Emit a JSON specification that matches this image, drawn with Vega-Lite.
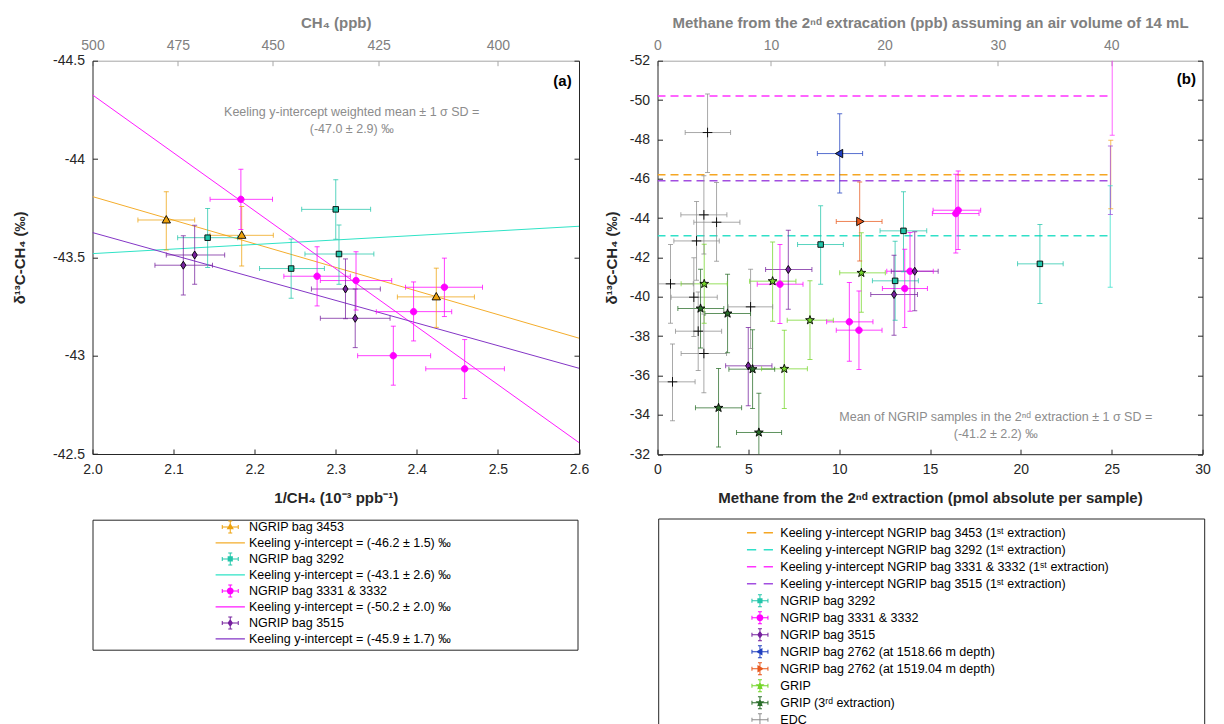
{
"$schema": "https://vega.github.io/schema/vega-lite/v6.json",
"autosize": {"type": "none"},
"padding": {"left": 92.5, "top": 60.7, "right": 1131.5, "bottom": 663.3},
"config": {
  "font": "Liberation Sans",
  "view": {"stroke": null},
  "axis": {"grid": false, "labelFontSize": 14, "labelFont": "Liberation Sans", "titleFont": "Liberation Sans", "titleFontSize": 15, "titleFontWeight": "bold", "tickSize": -5, "labelPadding": 13, "labelFlush": false, "labelOverlap": false, "domainColor": "#262626", "tickColor": "#262626", "labelColor": "#262626", "titleColor": "#262626", "domainWidth": 1, "tickWidth": 1, "titleLimit": 2000}
},
"datasets": {
"a_pts": [
{"s":"NGRIP bag 3453","x":2.091,"y":-43.690,"xlo":2.056,"xhi":2.126,"ylo":-43.834,"yhi":-43.538},
{"s":"NGRIP bag 3453","x":2.184,"y":-43.612,"xlo":2.145,"xhi":2.223,"ylo":-43.758,"yhi":-43.456},
{"s":"NGRIP bag 3453","x":2.424,"y":-43.299,"xlo":2.376,"xhi":2.471,"ylo":-43.445,"yhi":-43.144},
{"s":"NGRIP bag 3292","x":2.142,"y":-43.600,"xlo":2.105,"xhi":2.179,"ylo":-43.749,"yhi":-43.449},
{"s":"NGRIP bag 3292","x":2.300,"y":-43.744,"xlo":2.258,"xhi":2.343,"ylo":-43.895,"yhi":-43.592},
{"s":"NGRIP bag 3292","x":2.304,"y":-43.517,"xlo":2.262,"xhi":2.347,"ylo":-43.664,"yhi":-43.363},
{"s":"NGRIP bag 3292","x":2.245,"y":-43.443,"xlo":2.206,"xhi":2.286,"ylo":-43.593,"yhi":-43.292},
{"s":"NGRIP bag 3331 & 3332","x":2.183,"y":-43.795,"xlo":2.145,"xhi":2.222,"ylo":-43.948,"yhi":-43.641},
{"s":"NGRIP bag 3331 & 3332","x":2.277,"y":-43.404,"xlo":2.236,"xhi":2.318,"ylo":-43.554,"yhi":-43.253},
{"s":"NGRIP bag 3331 & 3332","x":2.325,"y":-43.382,"xlo":2.281,"xhi":2.369,"ylo":-43.529,"yhi":-43.232},
{"s":"NGRIP bag 3331 & 3332","x":2.434,"y":-43.348,"xlo":2.386,"xhi":2.481,"ylo":-43.496,"yhi":-43.199},
{"s":"NGRIP bag 3331 & 3332","x":2.396,"y":-43.224,"xlo":2.350,"xhi":2.443,"ylo":-43.375,"yhi":-43.075},
{"s":"NGRIP bag 3331 & 3332","x":2.371,"y":-43.000,"xlo":2.327,"xhi":2.417,"ylo":-43.150,"yhi":-42.850},
{"s":"NGRIP bag 3331 & 3332","x":2.459,"y":-42.933,"xlo":2.411,"xhi":2.508,"ylo":-43.082,"yhi":-42.782},
{"s":"NGRIP bag 3515","x":2.112,"y":-43.460,"xlo":2.077,"xhi":2.148,"ylo":-43.610,"yhi":-43.309},
{"s":"NGRIP bag 3515","x":2.126,"y":-43.512,"xlo":2.091,"xhi":2.163,"ylo":-43.663,"yhi":-43.363},
{"s":"NGRIP bag 3515","x":2.312,"y":-43.339,"xlo":2.270,"xhi":2.355,"ylo":-43.492,"yhi":-43.188},
{"s":"NGRIP bag 3515","x":2.324,"y":-43.190,"xlo":2.281,"xhi":2.367,"ylo":-43.339,"yhi":-43.041}
],
"a_lines": [
{"s":"Keeling y-intercept = (-46.2 ± 1.5) ‰","x":2.0,"y":-43.809},
{"s":"Keeling y-intercept = (-46.2 ± 1.5) ‰","x":2.6,"y":-43.089},
{"s":"Keeling y-intercept = (-43.1 ± 2.6) ‰","x":2.0,"y":-43.519},
{"s":"Keeling y-intercept = (-43.1 ± 2.6) ‰","x":2.6,"y":-43.658},
{"s":"Keeling y-intercept = (-50.2 ± 2.0) ‰","x":2.0,"y":-44.326},
{"s":"Keeling y-intercept = (-50.2 ± 2.0) ‰","x":2.6,"y":-42.558},
{"s":"Keeling y-intercept = (-45.9 ± 1.7) ‰","x":2.0,"y":-43.626},
{"s":"Keeling y-intercept = (-45.9 ± 1.7) ‰","x":2.6,"y":-42.936}
],
"a_text": [
{"t":"Keeling y-intercept weighted mean ± 1 σ SD =","x":2.3197,"y":-44.238},
{"t":"(-47.0 ± 2.9) ‰","x":2.3197,"y":-44.153}
],
"a_tag": [{"t":"(a)","x":2.591,"y":-44.398}],
"b_pts": [
{"s":"NGRIP bag 3292","x":8.98,"y":-42.657,"xlo":7.71,"xhi":10.23,"ylo":-44.622,"yhi":-40.641},
{"s":"NGRIP bag 3292","x":13.54,"y":-43.352,"xlo":12.25,"xhi":14.82,"ylo":-45.334,"yhi":-41.268},
{"s":"NGRIP bag 3292","x":13.08,"y":-40.811,"xlo":11.83,"xhi":14.36,"ylo":-42.827,"yhi":-38.812},
{"s":"NGRIP bag 3292","x":21.05,"y":-41.675,"xlo":19.82,"xhi":22.33,"ylo":-43.67,"yhi":-39.66},
{"s":"NGRIP bag 3331 & 3332","x":6.74,"y":-40.641,"xlo":5.49,"xhi":8.01,"ylo":-42.657,"yhi":-38.642},
{"s":"NGRIP bag 3331 & 3332","x":10.56,"y":-38.727,"xlo":9.31,"xhi":11.86,"ylo":-40.726,"yhi":-36.728},
{"s":"NGRIP bag 3331 & 3332","x":11.09,"y":-38.304,"xlo":9.84,"xhi":12.36,"ylo":-40.30,"yhi":-36.304},
{"s":"NGRIP bag 3331 & 3332","x":13.61,"y":-40.42,"xlo":12.38,"xhi":14.86,"ylo":-42.42,"yhi":-38.44},
{"s":"NGRIP bag 3331 & 3332","x":13.90,"y":-41.30,"xlo":12.62,"xhi":15.18,"ylo":-43.27,"yhi":-39.27},
{"s":"NGRIP bag 3331 & 3332","x":16.55,"y":-44.40,"xlo":15.17,"xhi":17.79,"ylo":-46.40,"yhi":-42.40},
{"s":"NGRIP bag 3331 & 3332","x":16.42,"y":-44.23,"xlo":15.13,"xhi":17.70,"ylo":-46.23,"yhi":-42.23},
{"s":"NGRIP bag 3515","x":7.20,"y":-41.387,"xlo":5.95,"xhi":8.50,"ylo":-43.386,"yhi":-39.371},
{"s":"NGRIP bag 3515","x":4.995,"y":-36.491,"xlo":3.75,"xhi":6.30,"ylo":-38.439,"yhi":-34.458},
{"s":"NGRIP bag 3515","x":14.16,"y":-41.30,"xlo":12.87,"xhi":15.45,"ylo":-43.30,"yhi":-39.29},
{"s":"NGRIP bag 3515","x":13.02,"y":-40.116,"xlo":11.74,"xhi":14.31,"ylo":-42.115,"yhi":-38.05},
{"s":"NGRIP bag 2762 (at 1518.66 m depth)","x":10.03,"y":-47.28,"xlo":8.80,"xhi":11.29,"ylo":-49.30,"yhi":-45.28},
{"s":"NGRIP bag 2762 (at 1519.04 m depth)","x":11.13,"y":-43.83,"xlo":9.84,"xhi":12.36,"ylo":-45.83,"yhi":-41.82},
{"s":"GRIP","x":2.571,"y":-40.658,"xlo":1.30,"xhi":3.84,"ylo":-42.674,"yhi":-38.66},
{"s":"GRIP","x":6.336,"y":-40.794,"xlo":5.07,"xhi":7.62,"ylo":-42.78,"yhi":-38.761},
{"s":"GRIP","x":11.22,"y":-41.217,"xlo":10.03,"xhi":12.54,"ylo":-43.25,"yhi":-39.218},
{"s":"GRIP","x":8.393,"y":-38.812,"xlo":7.14,"xhi":9.68,"ylo":-40.811,"yhi":-36.813},
{"s":"GRIP","x":6.98,"y":-36.338,"xlo":5.73,"xhi":8.25,"ylo":-38.304,"yhi":-34.322},
{"s":"GRIP (3ʳᵈ extraction)","x":2.369,"y":-39.405,"xlo":1.12,"xhi":3.65,"ylo":-41.4,"yhi":-37.4},
{"s":"GRIP (3ʳᵈ extraction)","x":3.857,"y":-39.151,"xlo":2.61,"xhi":5.12,"ylo":-41.15,"yhi":-37.15},
{"s":"GRIP (3ʳᵈ extraction)","x":5.234,"y":-36.322,"xlo":3.93,"xhi":6.45,"ylo":-38.32,"yhi":-34.32},
{"s":"GRIP (3ʳᵈ extraction)","x":3.36,"y":-34.356,"xlo":2.09,"xhi":4.63,"ylo":-36.36,"yhi":-32.36},
{"s":"GRIP (3ʳᵈ extraction)","x":5.58,"y":-33.103,"xlo":4.35,"xhi":6.83,"ylo":-35.1,"yhi":-31.1},
{"s":"EDC","x":2.755,"y":-48.349,"xlo":1.524,"xhi":4.022,"ylo":-50.31,"yhi":-46.32},
{"s":"EDC","x":2.553,"y":-44.165,"xlo":1.286,"xhi":3.820,"ylo":-46.15,"yhi":-42.17},
{"s":"EDC","x":3.251,"y":-43.79,"xlo":2.00,"xhi":4.536,"ylo":-45.81,"yhi":-41.81},
{"s":"EDC","x":2.149,"y":-42.84,"xlo":0.90,"xhi":3.40,"ylo":-44.84,"yhi":-40.84},
{"s":"EDC","x":0.716,"y":-40.658,"xlo":-0.53,"xhi":1.97,"ylo":-42.66,"yhi":-38.66},
{"s":"EDC","x":2.0,"y":-39.981,"xlo":0.75,"xhi":3.29,"ylo":-41.98,"yhi":-37.98},
{"s":"EDC","x":5.124,"y":-39.489,"xlo":3.89,"xhi":6.34,"ylo":-41.4,"yhi":-37.37},
{"s":"EDC","x":2.24,"y":-38.253,"xlo":0.99,"xhi":3.53,"ylo":-40.25,"yhi":-36.25},
{"s":"EDC","x":2.553,"y":-37.118,"xlo":1.30,"xhi":3.80,"ylo":-39.12,"yhi":-35.12},
{"s":"EDC","x":0.826,"y":-35.678,"xlo":-0.42,"xhi":2.07,"ylo":-37.6,"yhi":-33.7},
{"s":"Keeling y-intercept NGRIP bag 3453 (1ˢᵗ extraction)","x":24.95,"y":-46.2,"ylo":-47.96,"yhi":-44.47},
{"s":"Keeling y-intercept NGRIP bag 3292 (1ˢᵗ extraction)","x":24.92,"y":-43.1,"ylo":-45.64,"yhi":-40.49},
{"s":"Keeling y-intercept NGRIP bag 3331 & 3332 (1ˢᵗ extraction)","x":25.03,"y":-50.2,"ylo":-52.2,"yhi":-48.21},
{"s":"Keeling y-intercept NGRIP bag 3515 (1ˢᵗ extraction)","x":24.93,"y":-45.9,"ylo":-47.67,"yhi":-44.18}
],
"b_lines": [
{"s":"Keeling y-intercept NGRIP bag 3453 (1ˢᵗ extraction)","x":0,"y":-46.2},
{"s":"Keeling y-intercept NGRIP bag 3453 (1ˢᵗ extraction)","x":24.95,"y":-46.2},
{"s":"Keeling y-intercept NGRIP bag 3292 (1ˢᵗ extraction)","x":0,"y":-43.1},
{"s":"Keeling y-intercept NGRIP bag 3292 (1ˢᵗ extraction)","x":24.92,"y":-43.1},
{"s":"Keeling y-intercept NGRIP bag 3331 & 3332 (1ˢᵗ extraction)","x":0,"y":-50.2},
{"s":"Keeling y-intercept NGRIP bag 3331 & 3332 (1ˢᵗ extraction)","x":25.03,"y":-50.2},
{"s":"Keeling y-intercept NGRIP bag 3515 (1ˢᵗ extraction)","x":0,"y":-45.9},
{"s":"Keeling y-intercept NGRIP bag 3515 (1ˢᵗ extraction)","x":24.93,"y":-45.9}
],
"b_text": [
{"t":"Mean of NGRIP samples in the 2ⁿᵈ extraction ± 1 σ SD =","x":18.62,"y":-33.90},
{"t":"(-41.2 ± 2.2) ‰","x":18.62,"y":-33.05}
],
"b_tag": [{"t":"(b)","x":29.64,"y":-51.045}]
},
"spacing": 78,
"bounds": "flush",
"resolve": {"scale": {"color": "independent", "shape": "independent", "x": "independent", "y": "independent"}, "legend": {"color": "independent", "shape": "independent"}},
"hconcat": [
{
 "name": "pa",
 "width": 486.5,
 "height": 393.3,
 "resolve": {"scale": {"shape": "independent", "color": "independent"}, "axis": {"x": "independent", "y": "independent"}},
 "layer": [
  {"data": {"name": "a_lines"},
   "mark": {"type": "line", "strokeWidth": 1, "clip": true},
   "encoding": {
    "x": {"field": "x", "type": "quantitative", "scale": {"domain": [2.0, 2.6], "nice": false, "zero": false},
          "axis": {"orient": "bottom", "values": [2.0, 2.1, 2.2, 2.3, 2.4, 2.5, 2.6], "format": ".1f", "title": "1/CH₄ (10⁻³ ppb⁻¹)", "titlePadding": 14.5}},
    "y": {"field": "y", "type": "quantitative", "scale": {"domain": [-44.5, -42.5], "reverse": true, "nice": false, "zero": false},
          "axis": {"orient": "left", "values": [-44.5, -44, -43.5, -43, -42.5], "labelExpr": "datum.value + ''", "title": "δ¹³C-CH₄ (‰)", "titlePadding": 25}},
    "color": {"field": "s", "type": "nominal", "legend": null,
      "scale": {"domain": ["NGRIP bag 3453", "Keeling y-intercept = (-46.2 ± 1.5) ‰", "NGRIP bag 3292", "Keeling y-intercept = (-43.1 ± 2.6) ‰", "NGRIP bag 3331 & 3332", "Keeling y-intercept = (-50.2 ± 2.0) ‰", "NGRIP bag 3515", "Keeling y-intercept = (-45.9 ± 1.7) ‰"],
                "range": ["#eea20c", "#f4ad2c", "#22c6aa", "#2fe3c6", "#ff00ff", "#ff1aff", "#76209e", "#8436c6"]}}
   }},
  {"data": {"name": "a_pts"},
   "mark": {"type": "rule", "strokeWidth": 1, "opacity": 0.75, "clip": true},
   "encoding": {
    "x": {"field": "xlo", "type": "quantitative", "scale": {"domain": [2.0, 2.6], "nice": false, "zero": false},
          "axis": {"orient": "top", "values": [2.0, 2.1052632, 2.2222222, 2.3529412, 2.5], "labelExpr": "format(1000/datum.value, '.0f')", "title": "CH₄ (ppb)", "titlePadding": 8, "labelColor": "#808080", "titleColor": "#808080", "domainColor": "#a6a6a6", "tickColor": "#a6a6a6"}},
    "x2": {"field": "xhi"},
    "y": {"field": "y", "type": "quantitative", "scale": {"domain": [-44.5, -42.5], "reverse": true, "nice": false, "zero": false},
          "axis": {"orient": "right", "values": [-44.5, -44, -43.5, -43, -42.5], "labels": false, "title": null}},
    "color": {"field": "s", "type": "nominal", "legend": null,
      "scale": {"domain": ["NGRIP bag 3453", "Keeling y-intercept = (-46.2 ± 1.5) ‰", "NGRIP bag 3292", "Keeling y-intercept = (-43.1 ± 2.6) ‰", "NGRIP bag 3331 & 3332", "Keeling y-intercept = (-50.2 ± 2.0) ‰", "NGRIP bag 3515", "Keeling y-intercept = (-45.9 ± 1.7) ‰"],
                "range": ["#eea20c", "#f4ad2c", "#22c6aa", "#2fe3c6", "#ff00ff", "#ff1aff", "#76209e", "#8436c6"]}}
   }},
  {"data": {"name": "a_pts"},
   "mark": {"type": "rule", "strokeWidth": 1, "opacity": 0.75, "clip": true},
   "encoding": {
    "x": {"field": "x", "type": "quantitative", "axis": null},
    "y": {"field": "ylo", "type": "quantitative", "axis": null},
    "y2": {"field": "yhi"},
    "color": {"field": "s", "type": "nominal", "legend": null,
      "scale": {"domain": ["NGRIP bag 3453", "Keeling y-intercept = (-46.2 ± 1.5) ‰", "NGRIP bag 3292", "Keeling y-intercept = (-43.1 ± 2.6) ‰", "NGRIP bag 3331 & 3332", "Keeling y-intercept = (-50.2 ± 2.0) ‰", "NGRIP bag 3515", "Keeling y-intercept = (-45.9 ± 1.7) ‰"],
                "range": ["#eea20c", "#f4ad2c", "#22c6aa", "#2fe3c6", "#ff00ff", "#ff1aff", "#76209e", "#8436c6"]}}
   }},
  {"data": {"name": "a_pts"},
   "transform": [{"fold": ["xlo", "xhi"], "as": ["k", "xv"]}],
   "mark": {"type": "tick", "orient": "vertical", "size": 5, "thickness": 1, "opacity": 0.75, "clip": true},
   "encoding": {
    "x": {"field": "xv", "type": "quantitative", "axis": null},
    "y": {"field": "y", "type": "quantitative", "axis": null},
    "color": {"field": "s", "type": "nominal", "legend": null,
      "scale": {"domain": ["NGRIP bag 3453", "Keeling y-intercept = (-46.2 ± 1.5) ‰", "NGRIP bag 3292", "Keeling y-intercept = (-43.1 ± 2.6) ‰", "NGRIP bag 3331 & 3332", "Keeling y-intercept = (-50.2 ± 2.0) ‰", "NGRIP bag 3515", "Keeling y-intercept = (-45.9 ± 1.7) ‰"],
                "range": ["#eea20c", "#f4ad2c", "#22c6aa", "#2fe3c6", "#ff00ff", "#ff1aff", "#76209e", "#8436c6"]}}
   }},
  {"data": {"name": "a_pts"},
   "transform": [{"fold": ["ylo", "yhi"], "as": ["k", "yv"]}],
   "mark": {"type": "tick", "orient": "horizontal", "size": 5, "thickness": 1, "opacity": 0.75, "clip": true},
   "encoding": {
    "x": {"field": "x", "type": "quantitative", "axis": null},
    "y": {"field": "yv", "type": "quantitative", "axis": null},
    "color": {"field": "s", "type": "nominal", "legend": null,
      "scale": {"domain": ["NGRIP bag 3453", "Keeling y-intercept = (-46.2 ± 1.5) ‰", "NGRIP bag 3292", "Keeling y-intercept = (-43.1 ± 2.6) ‰", "NGRIP bag 3331 & 3332", "Keeling y-intercept = (-50.2 ± 2.0) ‰", "NGRIP bag 3515", "Keeling y-intercept = (-45.9 ± 1.7) ‰"],
                "range": ["#eea20c", "#f4ad2c", "#22c6aa", "#2fe3c6", "#ff00ff", "#ff1aff", "#76209e", "#8436c6"]}}
   }},
  {"data": {"name": "a_pts"},
   "mark": {"type": "point", "filled": true, "opacity": 1, "strokeWidth": 0.9, "size": 64},
   "encoding": {
    "x": {"field": "x", "type": "quantitative", "axis": null},
    "y": {"field": "y", "type": "quantitative", "axis": null},
    "color": {"field": "s", "type": "nominal", "legend": null,
      "scale": {"domain": ["NGRIP bag 3453", "Keeling y-intercept = (-46.2 ± 1.5) ‰", "NGRIP bag 3292", "Keeling y-intercept = (-43.1 ± 2.6) ‰", "NGRIP bag 3331 & 3332", "Keeling y-intercept = (-50.2 ± 2.0) ‰", "NGRIP bag 3515", "Keeling y-intercept = (-45.9 ± 1.7) ‰"],
                "range": ["#eea20c", "#f4ad2c", "#22c6aa", "#2fe3c6", "#ff00ff", "#ff1aff", "#76209e", "#8436c6"]}},
    "shape": {"field": "s", "type": "nominal", "legend": null,
      "scale": {"domain": ["NGRIP bag 3453", "NGRIP bag 3292", "NGRIP bag 3331 & 3332", "NGRIP bag 3515"],
                "range": ["M0,-1.1L1.05,0.75L-1.05,0.75Z", "M-0.69,-0.69H0.69V0.69H-0.69Z", "M-0.81,0A0.81,0.81,0,1,1,0.81,0A0.81,0.81,0,1,1,-0.81,0Z", "M0,-1L0.65,0L0,1L-0.65,0Z"]}},
    "stroke": {"condition": {"test": "datum.s === 'NGRIP bag 3331 & 3332'", "value": "#ff00ff"}, "value": "#000000"}
   }},
  {"data": {"name": "a_pts"},
   "transform": [{"filter": "false"}],
   "mark": {"type": "point", "filled": true, "opacity": 1},
   "encoding": {
    "color": {"field": "s", "type": "nominal",
      "scale": {"domain": ["NGRIP bag 3453", "Keeling y-intercept = (-46.2 ± 1.5) ‰", "NGRIP bag 3292", "Keeling y-intercept = (-43.1 ± 2.6) ‰", "NGRIP bag 3331 & 3332", "Keeling y-intercept = (-50.2 ± 2.0) ‰", "NGRIP bag 3515", "Keeling y-intercept = (-45.9 ± 1.7) ‰"],
                "range": ["#eea20c", "#f4ad2c", "#22c6aa", "#2fe3c6", "#ff00ff", "#ff1aff", "#76209e", "#8436c6"]},
      "legend": {"orient": "none", "legendX": 0, "legendY": 459, "direction": "vertical", "columns": 1, "title": null, "padding": 1, "rowPadding": -5.0, "symbolSize": 100, "symbolOffset": 130.5, "labelOffset": 12.5, "labelFontSize": 12.5, "labelFont": "Liberation Sans", "labelColor": "#000000", "labelLimit": 2000, "strokeColor": "#262626", "fillColor": "#ffffff", "symbolFillColor": "#000000", "symbolStrokeColor": "transparent",
        "labelExpr": "datum.label + '\u00a0\u00a0\u00a0\u00a0\u00a0\u00a0\u00a0\u00a0\u00a0\u00a0\u00a0\u00a0\u00a0\u00a0\u00a0\u00a0\u00a0\u00a0\u00a0\u00a0\u00a0\u00a0\u00a0\u00a0\u00a0\u00a0\u00a0\u00a0\u00a0\u00a0\u00a0\u00a0\u00a0\u00a0\u00a0\u00a0\u200b'"}},
    "shape": {"field": "s", "type": "nominal",
      "scale": {"domain": ["NGRIP bag 3453", "Keeling y-intercept = (-46.2 ± 1.5) ‰", "NGRIP bag 3292", "Keeling y-intercept = (-43.1 ± 2.6) ‰", "NGRIP bag 3331 & 3332", "Keeling y-intercept = (-50.2 ± 2.0) ‰", "NGRIP bag 3515", "Keeling y-intercept = (-45.9 ± 1.7) ‰"],
                "range": [
                 "M-1.6,-0.1H1.6V0.1H-1.6ZM-1.7,-0.4H-1.5V0.4H-1.7ZM1.5,-0.4H1.7V0.4H1.5ZM-0.1,-1.2H0.1V1.2H-0.1ZM-0.4,-1.3H0.4V-1.1H-0.4ZM-0.4,1.1H0.4V1.3H-0.4ZM0,-0.78L0.72,0.48L-0.72,0.48Z",
                 "M-2.93,-0.12H2.93V0.12H-2.93ZM0,-1.3ZM0,1.3Z",
                 "M-1.6,-0.1H1.6V0.1H-1.6ZM-1.7,-0.4H-1.5V0.4H-1.7ZM1.5,-0.4H1.7V0.4H1.5ZM-0.1,-1.2H0.1V1.2H-0.1ZM-0.4,-1.3H0.4V-1.1H-0.4ZM-0.4,1.1H0.4V1.3H-0.4ZM-0.52,-0.52H0.52V0.52H-0.52Z",
                 "M-2.93,-0.12H2.93V0.12H-2.93ZM0,-1.3ZM0,1.3Z",
                 "M-1.6,-0.1H1.6V0.1H-1.6ZM-1.7,-0.4H-1.5V0.4H-1.7ZM1.5,-0.4H1.7V0.4H1.5ZM-0.1,-1.2H0.1V1.2H-0.1ZM-0.4,-1.3H0.4V-1.1H-0.4ZM-0.4,1.1H0.4V1.3H-0.4ZM-0.68,0A0.68,0.68,0,1,1,0.68,0A0.68,0.68,0,1,1,-0.68,0Z",
                 "M-2.93,-0.12H2.93V0.12H-2.93ZM0,-1.3ZM0,1.3Z",
                 "M-1.6,-0.1H1.6V0.1H-1.6ZM-1.7,-0.4H-1.5V0.4H-1.7ZM1.5,-0.4H1.7V0.4H1.5ZM-0.1,-1.2H0.1V1.2H-0.1ZM-0.4,-1.3H0.4V-1.1H-0.4ZM-0.4,1.1H0.4V1.3H-0.4ZM0,-0.8L0.55,0L0,0.8L-0.55,0Z",
                 "M-2.93,-0.12H2.93V0.12H-2.93ZM0,-1.3ZM0,1.3Z"]},
      "legend": {"orient": "none", "legendX": 0, "legendY": 459, "direction": "vertical", "columns": 1, "title": null, "padding": 1, "rowPadding": -5.0, "symbolSize": 100, "symbolOffset": 130.5, "labelOffset": 12.5, "labelFontSize": 12.5, "labelFont": "Liberation Sans", "labelColor": "#000000", "labelLimit": 2000, "strokeColor": "#262626", "fillColor": "#ffffff", "symbolFillColor": "#000000", "symbolStrokeColor": "transparent",
        "labelExpr": "datum.label + '\u00a0\u00a0\u00a0\u00a0\u00a0\u00a0\u00a0\u00a0\u00a0\u00a0\u00a0\u00a0\u00a0\u00a0\u00a0\u00a0\u00a0\u00a0\u00a0\u00a0\u00a0\u00a0\u00a0\u00a0\u00a0\u00a0\u00a0\u00a0\u00a0\u00a0\u00a0\u00a0\u00a0\u00a0\u00a0\u00a0\u200b'"}}
   }},
  {"data": {"name": "a_text"},
   "mark": {"type": "text", "align": "center", "baseline": "middle", "fontSize": 12.5, "color": "#8c8c8c"},
   "encoding": {
    "x": {"field": "x", "type": "quantitative", "axis": null},
    "y": {"field": "y", "type": "quantitative", "axis": null},
    "text": {"field": "t"}
   }},
  {"data": {"name": "a_tag"},
   "mark": {"type": "text", "align": "right", "baseline": "middle", "fontSize": 15, "fontWeight": "bold", "color": "#000000"},
   "encoding": {
    "x": {"field": "x", "type": "quantitative", "axis": null},
    "y": {"field": "y", "type": "quantitative", "axis": null},
    "text": {"field": "t"}
   }}
 ]
},
{
 "name": "pb",
 "width": 545,
 "height": 393.5,
 "resolve": {"scale": {"shape": "independent", "color": "independent"}, "axis": {"x": "independent", "y": "independent"}},
 "layer": [
  {"data": {"name": "b_lines"},
   "mark": {"type": "line", "strokeWidth": 1.5, "strokeDash": [8, 5], "clip": true},
   "encoding": {
    "x": {"field": "x", "type": "quantitative", "scale": {"domain": [0, 30], "nice": false, "zero": false},
          "axis": {"orient": "bottom", "values": [0, 5, 10, 15, 20, 25, 30], "format": "d", "title": "Methane from the 2ⁿᵈ extraction (pmol absolute per sample)", "titlePadding": 14.5}},
    "y": {"field": "y", "type": "quantitative", "scale": {"domain": [-52, -32], "reverse": true, "nice": false, "zero": false},
          "axis": {"orient": "left", "values": [-52, -50, -48, -46, -44, -42, -40, -38, -36, -34, -32], "labelExpr": "datum.value + ''", "title": "δ¹³C-CH₄ (‰)", "titlePadding": 10}},
    "color": {"field": "s", "type": "nominal", "legend": null,
      "scale": {"domain": ["Keeling y-intercept NGRIP bag 3453 (1ˢᵗ extraction)", "Keeling y-intercept NGRIP bag 3292 (1ˢᵗ extraction)", "Keeling y-intercept NGRIP bag 3331 & 3332 (1ˢᵗ extraction)", "Keeling y-intercept NGRIP bag 3515 (1ˢᵗ extraction)", "NGRIP bag 3292", "NGRIP bag 3331 & 3332", "NGRIP bag 3515", "NGRIP bag 2762 (at 1518.66 m depth)", "NGRIP bag 2762 (at 1519.04 m depth)", "GRIP", "GRIP (3ʳᵈ extraction)", "EDC"],
                "range": ["#f5a623", "#30e0c8", "#ff33ff", "#a24ee0", "#22c6aa", "#ff00ff", "#76209e", "#1f3fbf", "#e8581c", "#74d62a", "#2a6e2a", "#8c8c8c"]}}
   }},
  {"data": {"name": "b_pts"},
   "transform": [{"filter": "isValid(datum.xlo)"}],
   "mark": {"type": "rule", "strokeWidth": 1, "opacity": 0.75, "clip": true},
   "encoding": {
    "x": {"field": "xlo", "type": "quantitative", "scale": {"domain": [0, 30], "nice": false, "zero": false},
          "axis": {"orient": "top", "values": [0, 6.2457, 12.4914, 18.7371, 24.9828], "labelExpr": "format(datum.value*1.6011, '.0f')", "title": "Methane from the 2ⁿᵈ extracation (ppb) assuming an air volume of 14 mL", "titlePadding": 8, "labelColor": "#808080", "titleColor": "#808080", "domainColor": "#a6a6a6", "tickColor": "#a6a6a6"}},
    "x2": {"field": "xhi"},
    "y": {"field": "y", "type": "quantitative", "scale": {"domain": [-52, -32], "reverse": true, "nice": false, "zero": false},
          "axis": {"orient": "right", "values": [-52, -50, -48, -46, -44, -42, -40, -38, -36, -34, -32], "labels": false, "title": null}},
    "color": {"field": "s", "type": "nominal", "legend": null,
      "scale": {"domain": ["Keeling y-intercept NGRIP bag 3453 (1ˢᵗ extraction)", "Keeling y-intercept NGRIP bag 3292 (1ˢᵗ extraction)", "Keeling y-intercept NGRIP bag 3331 & 3332 (1ˢᵗ extraction)", "Keeling y-intercept NGRIP bag 3515 (1ˢᵗ extraction)", "NGRIP bag 3292", "NGRIP bag 3331 & 3332", "NGRIP bag 3515", "NGRIP bag 2762 (at 1518.66 m depth)", "NGRIP bag 2762 (at 1519.04 m depth)", "GRIP", "GRIP (3ʳᵈ extraction)", "EDC"],
                "range": ["#f5a623", "#30e0c8", "#ff33ff", "#a24ee0", "#22c6aa", "#ff00ff", "#76209e", "#1f3fbf", "#e8581c", "#74d62a", "#2a6e2a", "#8c8c8c"]}}
   }},
  {"data": {"name": "b_pts"},
   "mark": {"type": "rule", "strokeWidth": 1, "opacity": 0.75, "clip": true},
   "encoding": {
    "x": {"field": "x", "type": "quantitative", "axis": null},
    "y": {"field": "ylo", "type": "quantitative", "axis": null},
    "y2": {"field": "yhi"},
    "color": {"field": "s", "type": "nominal", "legend": null,
      "scale": {"domain": ["Keeling y-intercept NGRIP bag 3453 (1ˢᵗ extraction)", "Keeling y-intercept NGRIP bag 3292 (1ˢᵗ extraction)", "Keeling y-intercept NGRIP bag 3331 & 3332 (1ˢᵗ extraction)", "Keeling y-intercept NGRIP bag 3515 (1ˢᵗ extraction)", "NGRIP bag 3292", "NGRIP bag 3331 & 3332", "NGRIP bag 3515", "NGRIP bag 2762 (at 1518.66 m depth)", "NGRIP bag 2762 (at 1519.04 m depth)", "GRIP", "GRIP (3ʳᵈ extraction)", "EDC"],
                "range": ["#f5a623", "#30e0c8", "#ff33ff", "#a24ee0", "#22c6aa", "#ff00ff", "#76209e", "#1f3fbf", "#e8581c", "#74d62a", "#2a6e2a", "#8c8c8c"]}}
   }},
  {"data": {"name": "b_pts"},
   "transform": [{"filter": "isValid(datum.xlo)"}, {"fold": ["xlo", "xhi"], "as": ["k", "xv"]}],
   "mark": {"type": "tick", "orient": "vertical", "size": 5, "thickness": 1, "opacity": 0.75, "clip": true},
   "encoding": {
    "x": {"field": "xv", "type": "quantitative", "axis": null},
    "y": {"field": "y", "type": "quantitative", "axis": null},
    "color": {"field": "s", "type": "nominal", "legend": null,
      "scale": {"domain": ["Keeling y-intercept NGRIP bag 3453 (1ˢᵗ extraction)", "Keeling y-intercept NGRIP bag 3292 (1ˢᵗ extraction)", "Keeling y-intercept NGRIP bag 3331 & 3332 (1ˢᵗ extraction)", "Keeling y-intercept NGRIP bag 3515 (1ˢᵗ extraction)", "NGRIP bag 3292", "NGRIP bag 3331 & 3332", "NGRIP bag 3515", "NGRIP bag 2762 (at 1518.66 m depth)", "NGRIP bag 2762 (at 1519.04 m depth)", "GRIP", "GRIP (3ʳᵈ extraction)", "EDC"],
                "range": ["#f5a623", "#30e0c8", "#ff33ff", "#a24ee0", "#22c6aa", "#ff00ff", "#76209e", "#1f3fbf", "#e8581c", "#74d62a", "#2a6e2a", "#8c8c8c"]}}
   }},
  {"data": {"name": "b_pts"},
   "transform": [{"fold": ["ylo", "yhi"], "as": ["k", "yv"]}],
   "mark": {"type": "tick", "orient": "horizontal", "size": 5, "thickness": 1, "opacity": 0.75, "clip": true},
   "encoding": {
    "x": {"field": "x", "type": "quantitative", "axis": null},
    "y": {"field": "yv", "type": "quantitative", "axis": null},
    "color": {"field": "s", "type": "nominal", "legend": null,
      "scale": {"domain": ["Keeling y-intercept NGRIP bag 3453 (1ˢᵗ extraction)", "Keeling y-intercept NGRIP bag 3292 (1ˢᵗ extraction)", "Keeling y-intercept NGRIP bag 3331 & 3332 (1ˢᵗ extraction)", "Keeling y-intercept NGRIP bag 3515 (1ˢᵗ extraction)", "NGRIP bag 3292", "NGRIP bag 3331 & 3332", "NGRIP bag 3515", "NGRIP bag 2762 (at 1518.66 m depth)", "NGRIP bag 2762 (at 1519.04 m depth)", "GRIP", "GRIP (3ʳᵈ extraction)", "EDC"],
                "range": ["#f5a623", "#30e0c8", "#ff33ff", "#a24ee0", "#22c6aa", "#ff00ff", "#76209e", "#1f3fbf", "#e8581c", "#74d62a", "#2a6e2a", "#8c8c8c"]}}
   }},
  {"data": {"name": "b_pts"},
   "transform": [{"filter": "isValid(datum.xlo)"}],
   "mark": {"type": "point", "filled": true, "opacity": 1, "strokeWidth": 0.9, "size": 64},
   "encoding": {
    "x": {"field": "x", "type": "quantitative", "axis": null},
    "y": {"field": "y", "type": "quantitative", "axis": null},
    "color": {"field": "s", "type": "nominal", "legend": null,
      "scale": {"domain": ["Keeling y-intercept NGRIP bag 3453 (1ˢᵗ extraction)", "Keeling y-intercept NGRIP bag 3292 (1ˢᵗ extraction)", "Keeling y-intercept NGRIP bag 3331 & 3332 (1ˢᵗ extraction)", "Keeling y-intercept NGRIP bag 3515 (1ˢᵗ extraction)", "NGRIP bag 3292", "NGRIP bag 3331 & 3332", "NGRIP bag 3515", "NGRIP bag 2762 (at 1518.66 m depth)", "NGRIP bag 2762 (at 1519.04 m depth)", "GRIP", "GRIP (3ʳᵈ extraction)", "EDC"],
                "range": ["#f5a623", "#30e0c8", "#ff33ff", "#a24ee0", "#22c6aa", "#ff00ff", "#76209e", "#1f3fbf", "#e8581c", "#74d62a", "#2a6e2a", "#8c8c8c"]}},
    "shape": {"field": "s", "type": "nominal", "legend": null,
      "scale": {"domain": ["NGRIP bag 3292", "NGRIP bag 3331 & 3332", "NGRIP bag 3515", "NGRIP bag 2762 (at 1518.66 m depth)", "NGRIP bag 2762 (at 1519.04 m depth)", "GRIP", "GRIP (3ʳᵈ extraction)", "EDC"],
                "range": ["M-0.69,-0.69H0.69V0.69H-0.69Z", "M-0.81,0A0.81,0.81,0,1,1,0.81,0A0.81,0.81,0,1,1,-0.81,0Z", "M0,-1L0.65,0L0,1L-0.65,0Z", "M-1.1,0L0.75,-1.05L0.75,1.05Z", "M1.1,0L-0.75,-1.05L-0.75,1.05Z",
                  "M0,-1.15L0.27,-0.373L1.094,-0.355L0.437,0.143L0.676,0.93L0,0.46L-0.676,0.93L-0.437,0.143L-1.094,-0.355L-0.27,-0.373Z",
                  "M0,-1.15L0.27,-0.373L1.094,-0.355L0.437,0.143L0.676,0.93L0,0.46L-0.676,0.93L-0.437,0.143L-1.094,-0.355L-0.27,-0.373Z",
                  "M-1.2,0H1.2M0,-1.2V1.2"]}},
    "stroke": {"condition": {"test": "datum.s === 'NGRIP bag 3331 & 3332'", "value": "#ff00ff"}, "value": "#000000"}
   }},
  {"data": {"name": "b_pts"},
   "transform": [{"filter": "false"}],
   "mark": {"type": "point", "filled": true, "opacity": 1},
   "encoding": {
    "color": {"field": "s", "type": "nominal",
      "scale": {"domain": ["Keeling y-intercept NGRIP bag 3453 (1ˢᵗ extraction)", "Keeling y-intercept NGRIP bag 3292 (1ˢᵗ extraction)", "Keeling y-intercept NGRIP bag 3331 & 3332 (1ˢᵗ extraction)", "Keeling y-intercept NGRIP bag 3515 (1ˢᵗ extraction)", "NGRIP bag 3292", "NGRIP bag 3331 & 3332", "NGRIP bag 3515", "NGRIP bag 2762 (at 1518.66 m depth)", "NGRIP bag 2762 (at 1519.04 m depth)", "GRIP", "GRIP (3ʳᵈ extraction)", "EDC"],
                "range": ["#f5a623", "#30e0c8", "#ff33ff", "#a24ee0", "#22c6aa", "#ff00ff", "#76209e", "#1f3fbf", "#e8581c", "#74d62a", "#2a6e2a", "#8c8c8c"]},
      "legend": {"orient": "none", "legendX": 0.7, "legendY": 457.8, "direction": "vertical", "columns": 1, "title": null, "padding": 8, "rowPadding": -3.0, "symbolSize": 100, "symbolOffset": 87.5, "labelOffset": 14.1, "labelFontSize": 12.5, "labelFont": "Liberation Sans", "labelColor": "#000000", "labelLimit": 2000, "strokeColor": "#262626", "fillColor": "#ffffff", "symbolFillColor": "#000000", "symbolStrokeColor": "transparent",
        "labelExpr": "datum.label + '\u00a0\u00a0\u00a0\u00a0\u00a0\u00a0\u00a0\u00a0\u00a0\u00a0\u00a0\u00a0\u00a0\u00a0\u00a0\u00a0\u00a0\u00a0\u00a0\u00a0\u00a0\u00a0\u00a0\u00a0\u00a0\u200b'"}},
    "shape": {"field": "s", "type": "nominal",
      "scale": {"domain": ["Keeling y-intercept NGRIP bag 3453 (1ˢᵗ extraction)", "Keeling y-intercept NGRIP bag 3292 (1ˢᵗ extraction)", "Keeling y-intercept NGRIP bag 3331 & 3332 (1ˢᵗ extraction)", "Keeling y-intercept NGRIP bag 3515 (1ˢᵗ extraction)", "NGRIP bag 3292", "NGRIP bag 3331 & 3332", "NGRIP bag 3515", "NGRIP bag 2762 (at 1518.66 m depth)", "NGRIP bag 2762 (at 1519.04 m depth)", "GRIP", "GRIP (3ʳᵈ extraction)", "EDC"],
                "range": [
                 "M-2.6,-0.14H-0.75V0.14H-2.6ZM0.75,-0.14H2.6V0.14H0.75ZM0,-1.3ZM0,1.3Z",
                 "M-2.6,-0.14H-0.75V0.14H-2.6ZM0.75,-0.14H2.6V0.14H0.75ZM0,-1.3ZM0,1.3Z",
                 "M-2.6,-0.14H-0.75V0.14H-2.6ZM0.75,-0.14H2.6V0.14H0.75ZM0,-1.3ZM0,1.3Z",
                 "M-2.6,-0.14H-0.75V0.14H-2.6ZM0.75,-0.14H2.6V0.14H0.75ZM0,-1.3ZM0,1.3Z",
                 "M-1.6,-0.1H1.6V0.1H-1.6ZM-1.7,-0.4H-1.5V0.4H-1.7ZM1.5,-0.4H1.7V0.4H1.5ZM-0.1,-1.2H0.1V1.2H-0.1ZM-0.4,-1.3H0.4V-1.1H-0.4ZM-0.4,1.1H0.4V1.3H-0.4ZM-0.52,-0.52H0.52V0.52H-0.52Z",
                 "M-1.6,-0.1H1.6V0.1H-1.6ZM-1.7,-0.4H-1.5V0.4H-1.7ZM1.5,-0.4H1.7V0.4H1.5ZM-0.1,-1.2H0.1V1.2H-0.1ZM-0.4,-1.3H0.4V-1.1H-0.4ZM-0.4,1.1H0.4V1.3H-0.4ZM-0.68,0A0.68,0.68,0,1,1,0.68,0A0.68,0.68,0,1,1,-0.68,0Z",
                 "M-1.6,-0.1H1.6V0.1H-1.6ZM-1.7,-0.4H-1.5V0.4H-1.7ZM1.5,-0.4H1.7V0.4H1.5ZM-0.1,-1.2H0.1V1.2H-0.1ZM-0.4,-1.3H0.4V-1.1H-0.4ZM-0.4,1.1H0.4V1.3H-0.4ZM0,-0.8L0.55,0L0,0.8L-0.55,0Z",
                 "M-1.6,-0.1H1.6V0.1H-1.6ZM-1.7,-0.4H-1.5V0.4H-1.7ZM1.5,-0.4H1.7V0.4H1.5ZM-0.1,-1.2H0.1V1.2H-0.1ZM-0.4,-1.3H0.4V-1.1H-0.4ZM-0.4,1.1H0.4V1.3H-0.4ZM-0.8,0L0.5,-0.75L0.5,0.75Z",
                 "M-1.6,-0.1H1.6V0.1H-1.6ZM-1.7,-0.4H-1.5V0.4H-1.7ZM1.5,-0.4H1.7V0.4H1.5ZM-0.1,-1.2H0.1V1.2H-0.1ZM-0.4,-1.3H0.4V-1.1H-0.4ZM-0.4,1.1H0.4V1.3H-0.4ZM0.8,0L-0.5,0.75L-0.5,-0.75Z",
                 "M-1.6,-0.1H1.6V0.1H-1.6ZM-1.7,-0.4H-1.5V0.4H-1.7ZM1.5,-0.4H1.7V0.4H1.5ZM-0.1,-1.2H0.1V1.2H-0.1ZM-0.4,-1.3H0.4V-1.1H-0.4ZM-0.4,1.1H0.4V1.3H-0.4ZM0,-0.95L0.2234,-0.3074L0.9035,-0.2936L0.3614,0.1174L0.5584,0.7686L0,0.38L-0.5584,0.7686L-0.3614,0.1174L-0.9035,-0.2936L-0.2234,-0.3074Z",
                 "M-1.6,-0.1H1.6V0.1H-1.6ZM-1.7,-0.4H-1.5V0.4H-1.7ZM1.5,-0.4H1.7V0.4H1.5ZM-0.1,-1.2H0.1V1.2H-0.1ZM-0.4,-1.3H0.4V-1.1H-0.4ZM-0.4,1.1H0.4V1.3H-0.4ZM0,-0.95L0.2234,-0.3074L0.9035,-0.2936L0.3614,0.1174L0.5584,0.7686L0,0.38L-0.5584,0.7686L-0.3614,0.1174L-0.9035,-0.2936L-0.2234,-0.3074Z",
                 "M-1.6,-0.1H1.6V0.1H-1.6ZM-1.7,-0.4H-1.5V0.4H-1.7ZM1.5,-0.4H1.7V0.4H1.5ZM-0.1,-1.2H0.1V1.2H-0.1ZM-0.4,-1.3H0.4V-1.1H-0.4ZM-0.4,1.1H0.4V1.3H-0.4Z"]},
      "legend": {"orient": "none", "legendX": 0.7, "legendY": 457.8, "direction": "vertical", "columns": 1, "title": null, "padding": 8, "rowPadding": -3.0, "symbolSize": 100, "symbolOffset": 87.5, "labelOffset": 14.1, "labelFontSize": 12.5, "labelFont": "Liberation Sans", "labelColor": "#000000", "labelLimit": 2000, "strokeColor": "#262626", "fillColor": "#ffffff", "symbolFillColor": "#000000", "symbolStrokeColor": "transparent",
        "labelExpr": "datum.label + '\u00a0\u00a0\u00a0\u00a0\u00a0\u00a0\u00a0\u00a0\u00a0\u00a0\u00a0\u00a0\u00a0\u00a0\u00a0\u00a0\u00a0\u00a0\u00a0\u00a0\u00a0\u00a0\u00a0\u00a0\u00a0\u200b'"}}
   }},
  {"data": {"name": "b_text"},
   "mark": {"type": "text", "align": "center", "baseline": "middle", "fontSize": 12.5, "color": "#8c8c8c"},
   "encoding": {
    "x": {"field": "x", "type": "quantitative", "axis": null},
    "y": {"field": "y", "type": "quantitative", "axis": null},
    "text": {"field": "t"}
   }},
  {"data": {"name": "b_tag"},
   "mark": {"type": "text", "align": "right", "baseline": "middle", "fontSize": 15, "fontWeight": "bold", "color": "#000000"},
   "encoding": {
    "x": {"field": "x", "type": "quantitative", "axis": null},
    "y": {"field": "y", "type": "quantitative", "axis": null},
    "text": {"field": "t"}
   }}
 ]
}
]
}
